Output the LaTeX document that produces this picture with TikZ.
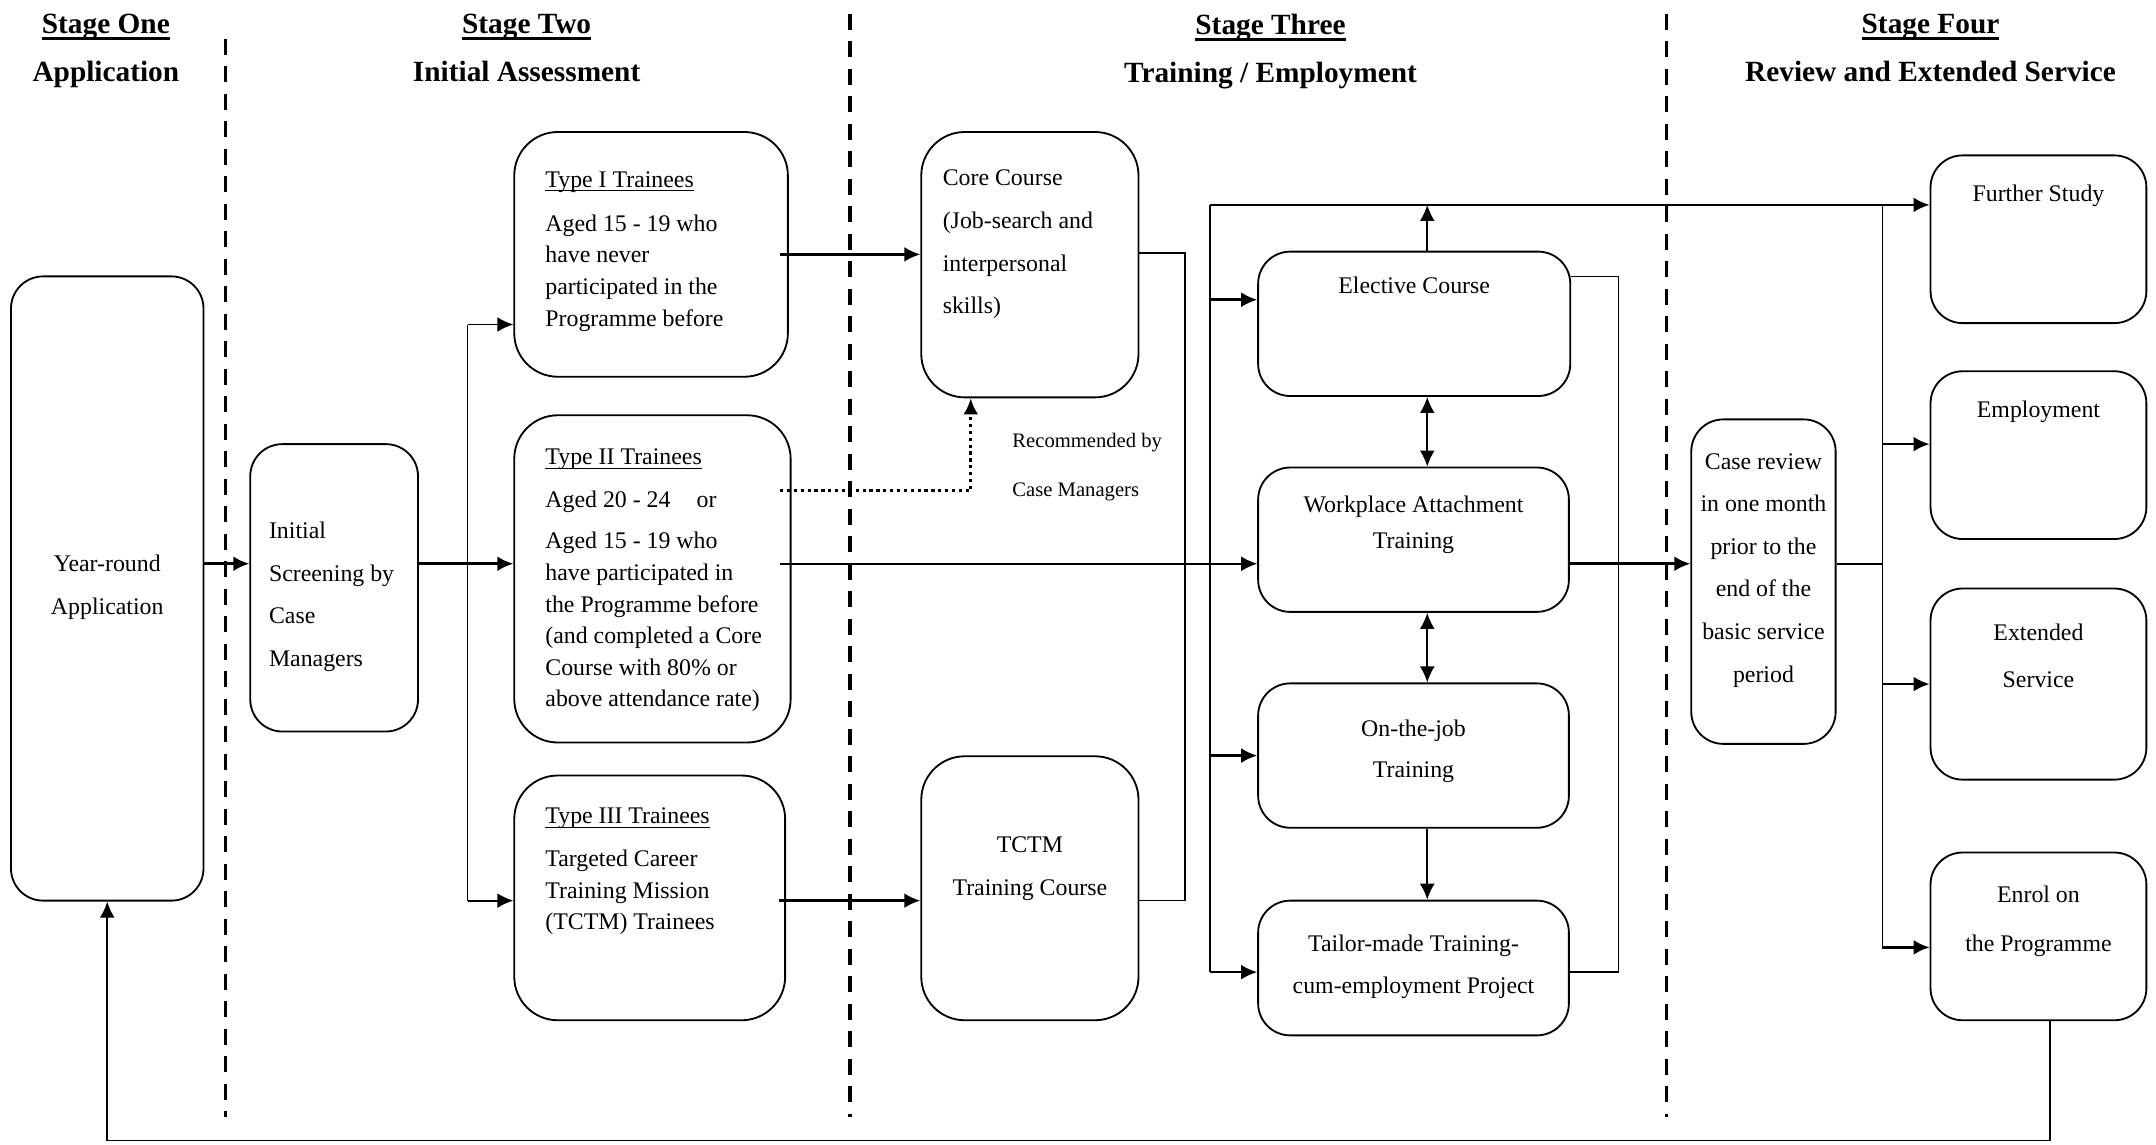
\documentclass[tikz,border=0pt]{standalone}
\usepackage{fontspec}
\setmainfont{Liberation Serif}
\usetikzlibrary{positioning}
\usetikzlibrary{arrows.meta}

% underline: depth, thickness, text
\newcommand{\ulbar}[3]{\setbox0\hbox{#3}\rlap{\rule[-#1]{\wd0}{#2}}\box0}

\tikzset{
  box/.style={draw,line width=0.8pt,rounded corners=14pt,inner sep=0pt},
  bigbox/.style={box,rounded corners=19pt},
  txt/.style={inner sep=0pt,font=\fontsize{10.4}{13.8}\selectfont},
  txtwide/.style={inner sep=0pt,font=\fontsize{10.4}{18.6}\selectfont},
  head/.style={inner sep=0pt,align=center,font=\fontsize{12.8}{21}\selectfont\bfseries},
  arr/.style={line width=1.1pt,-{Latex[length=7pt,width=6.5pt]}},
  arrthin/.style={line width=0.8pt,-{Latex[length=7pt,width=6.5pt]}},
  arrboth/.style={line width=0.8pt,{Latex[length=7pt,width=6.5pt]}-{Latex[length=7pt,width=6.5pt]}},
  link/.style={line width=0.7pt},
  recdot/.style={line width=1.4pt,dash pattern=on 1.4pt off 1.6pt,-{Latex[length=7pt,width=6.5pt]}},
  stagesep/.style={line width=1.7pt,dash pattern=on 7pt off 5pt},
}

\begin{document}
\begin{tikzpicture}[x=0.6pt,y=-0.6pt]
\useasboundingbox (0,0) rectangle (1568,832);

% headings and stage separators
\node[head,anchor=north] (head-one) at (77,10) {\ulbar{2.6pt}{1.1pt}{Stage One}\\Application};
\node[head,anchor=north] (head-two) at (383,10) {\ulbar{2.6pt}{1.1pt}{Stage Two}\\Initial Assessment};
\node[head,anchor=north] (head-three) at (924,10) {\ulbar{2.6pt}{1.1pt}{Stage Three}\\Training / Employment};
\node[head,anchor=north] (head-four) at (1404,10) {\ulbar{2.6pt}{1.1pt}{Stage Four}\\Review and Extended Service};
\draw[stagesep] (164,28) -- (164,812);
\draw[stagesep] (618,10) -- (618,812);
\draw[stagesep] (1212,10) -- (1212,812);

% stage one and two
\node[box,minimum width=84pt,minimum height=272.4pt] (apply) at (78,428) {};
\node[txtwide,align=center,below=121.8pt of apply.north] (apply-t) {Year-round\\Application};
\node[box,minimum width=73.2pt,minimum height=125.4pt] (screen) at (243,427.5) {};
\node[txtwide,align=left,below right=34.2pt and 8.4pt of screen.north west] (screen-t) {Initial\\Screening by\\Case\\Managers};
\node[bigbox,minimum width=119.4pt,minimum height=106.8pt] (typeI) at (473.5,185) {};
\node[txt,align=left,below right=17.4pt and 13.8pt of typeI.north west] (typeI-t)
  {\ulbar{1.8pt}{0.6pt}{Type I Trainees}\\[5.4pt]Aged 15 - 19 who\\have never\\participated in the\\Programme before};
\node[bigbox,minimum width=120.6pt,minimum height=142.8pt] (typeII) at (474.5,421) {};
\node[txt,align=left,below right=15pt and 13.8pt of typeII.north west] (typeII-t)
  {\ulbar{1.8pt}{0.6pt}{Type II Trainees}\\[4.8pt]Aged 20 - 24\hspace{8.8pt} or\\[4.2pt]Aged 15 - 19 who\\have participated in\\the Programme before\\(and completed a Core\\Course with 80\% or\\above attendance rate)};
\node[bigbox,minimum width=118.2pt,minimum height=106.8pt] (typeIII) at (472.5,653) {};
\node[txt,align=left,below right=14.4pt and 13.8pt of typeIII.north west] (typeIII-t)
  {\ulbar{1.8pt}{0.6pt}{Type III Trainees}\\[4.8pt]Targeted Career\\Training Mission\\(TCTM) Trainees};

% stage three
\node[bigbox,minimum width=94.8pt,minimum height=115.8pt] (core) at (749,192.5) {};
\node[txtwide,align=left,below right=16.8pt and 9.6pt of core.north west] (core-t) {Core Course\\(Job-search and\\interpersonal\\skills)};
\node[bigbox,minimum width=94.8pt,minimum height=115.2pt] (tctm) at (749,646) {};
\node[txtwide,align=center,below=35.4pt of tctm.north] (tctm-t) {TCTM\\Training Course};
\node[inner sep=0pt,align=left,anchor=north west,font=\fontsize{9}{21}\selectfont] (rec-t) at (736,315) {Recommended by\\Case Managers};
\node[box,minimum width=136.2pt,minimum height=63pt] (elective) at (1028.5,235.5) {};
\node[txt,align=center,below=11.4pt of elective.north] (elective-t) {Elective Course};
\node[box,minimum width=135.6pt,minimum height=63pt] (workplace) at (1028,392.5) {};
\node[txt,align=center,below=12.6pt of workplace.north] (workplace-t) {Workplace Attachment\\[1.8pt]Training};
\node[box,minimum width=135.6pt,minimum height=63pt] (onjob) at (1028,549.5) {};
\node[txt,align=center,below=16.2pt of onjob.north] (onjob-t) {On-the-job\\[4.2pt]Training};
\node[box,minimum width=135.6pt,minimum height=58.8pt] (tailor) at (1028,704) {};
\node[txtwide,align=center,below=15pt of tailor.north] (tailor-t) {Tailor-made Training-\\cum-employment Project};

% stage four
\node[box,minimum width=63pt,minimum height=141.6pt] (review) at (1282.5,423) {};
\node[txtwide,align=center,below=15pt of review.north] (review-t) {Case review\\in one month\\prior to the\\end of the\\basic service\\period};
\node[box,minimum width=94.2pt,minimum height=73.2pt] (study) at (1482.5,174) {};
\node[txt,align=center,below=13.2pt of study.north] (study-t) {Further Study};
\node[box,minimum width=94.2pt,minimum height=73.2pt] (employ) at (1482.5,331) {};
\node[txt,align=center,below=13.2pt of employ.north] (employ-t) {Employment};
\node[box,minimum width=94.2pt,minimum height=83.4pt] (extend) at (1482.5,497.5) {};
\node[txtwide,align=center,below=15.6pt of extend.north] (extend-t) {Extended\\[1.8pt]Service};
\node[box,minimum width=94.2pt,minimum height=73.2pt] (enrol) at (1482.5,681) {};
\node[txtwide,align=center,below=15pt of enrol.north] (enrol-t) {Enrol on\\[2.4pt]the Programme};

% junctions
\coordinate (split) at (340,410);
\coordinate (in-one) at (340,236);
\coordinate (in-three) at (340,655);
\coordinate (rec) at (706,357);
\coordinate (row-core) at (862,184);
\coordinate (row-tctm) at (862,655);
\coordinate (top-rail) at (880,149);
\coordinate (el-in) at (880,218);
\coordinate (rail-end) at (880,707);
\coordinate (mid-col) at (1038,149);
\coordinate (rr-top) at (1177,201);
\coordinate (out-rail) at (1369,410);
\coordinate (emp-in) at (1369,323);
\coordinate (enr-in) at (1369,689);
\coordinate (back) at (1491,829.5);

% connectors
\draw[arr] (apply.east |- split) -- (screen.west |- split);
\draw[arr] (screen.east |- split) -- (typeII.west |- split);
\draw[link] (in-one) -- (in-three);
\draw[arrthin] (in-one) -- (typeI.west |- in-one);
\draw[arrthin] (in-three) -- (typeIII.west |- in-three);
\draw[arr] ([xshift=-4pt]typeI.east) -- (core.west |- typeI.east);
\draw[arr] ([xshift=-3pt]typeIII.east |- in-three) -- (tctm.west |- in-three);
\draw[recdot] ([xshift=-5pt]typeII.east |- rec) -- (rec) -- (rec |- core.south);
\draw[arrthin] ([xshift=-5pt]typeII.east |- split) -- (workplace.west |- split);
\draw[link] (core.east |- row-core) -- (row-core) -- (row-tctm) -- (tctm.east |- row-tctm);

\draw[link] (top-rail) -- (rail-end);
\draw[arr] (top-rail) -- (study.west |- top-rail);
\draw[arr] (el-in) -- (elective.west |- el-in);
\draw[arr] (top-rail |- onjob.west) -- (onjob.west);
\draw[arr] (rail-end) -- (tailor.west |- rail-end);
\draw[arrthin] (mid-col |- elective.north) -- (mid-col);
\draw[arrboth] (mid-col |- elective.south) -- (mid-col |- workplace.north);
\draw[arrboth] (mid-col |- workplace.south) -- (mid-col |- onjob.north);
\draw[arrthin] (mid-col |- onjob.south) -- (mid-col |- tailor.north);
\draw[link] (elective.east |- rr-top) -- (rr-top) -- (rr-top |- rail-end) -- (tailor.east |- rail-end);

\draw[arr] (workplace.east |- split) -- (review.west |- split);
\draw[link] (review.east |- split) -- (out-rail);
\draw[link] (out-rail |- top-rail) -- (enr-in);
\draw[arr] (emp-in) -- (employ.west |- emp-in);
\draw[arr] (out-rail |- extend.west) -- (extend.west);
\draw[arr] (enr-in) -- (enrol.west |- enr-in);
\draw[arrthin] (back |- enrol.south) -- (back) -- (apply.south |- back) -- (apply.south);
\end{tikzpicture}
\end{document}
